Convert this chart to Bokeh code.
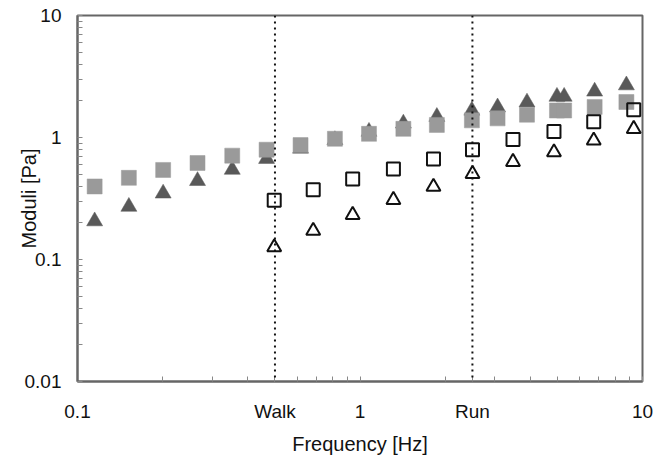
from bokeh.plotting import figure
from bokeh.models import FixedTicker, Span, ColumnDataSource
from bokeh.embed import file_html
from bokeh.resources import INLINE

# ---- data ----
freq_a = [0.115, 0.152, 0.201, 0.266, 0.353, 0.467, 0.616, 0.815, 1.076, 1.424,
          1.871, 2.489, 3.069, 3.90, 4.98, 5.28, 6.77, 8.77]
g_storage_a = [0.397, 0.467, 0.542, 0.618, 0.710, 0.794, 0.866, 0.976, 1.072, 1.177,
               1.268, 1.382, 1.435, 1.538, 1.664, 1.664, 1.780, 1.954]
g_loss_a = [0.206, 0.271, 0.348, 0.441, 0.545, 0.669, 0.812, 0.954, 1.117, 1.304,
            1.479, 1.664, 1.770, 1.940, 2.163, 2.163, 2.384, 2.682]

freq_b = [0.497, 0.683, 0.942, 1.313, 1.82, 2.502, 3.48, 4.86, 6.72, 9.31]
g_storage_b = [0.306, 0.373, 0.456, 0.553, 0.666, 0.794, 0.963, 1.119, 1.349, 1.689]
g_loss_b = [0.126, 0.172, 0.232, 0.308, 0.395, 0.503, 0.631, 0.757, 0.945, 1.177]

gait_freqs = [0.5, 2.5]
gait_labels = ["Walk", "Run"]

x_major = [0.1, 1, 10]
x_tick_labels = ["0.1", "1", "10"]
x_minor = [0.2, 0.3, 0.4, 0.5, 0.6, 0.7, 0.8, 0.9, 2, 3, 4, 5, 6, 7, 8, 9]
y_major = [0.01, 0.1, 1, 10]
y_tick_labels = ["0.01", "0.1", "1", "10"]
y_minor = [0.02, 0.03, 0.04, 0.05, 0.06, 0.07, 0.08, 0.09,
           0.2, 0.3, 0.4, 0.5, 0.6, 0.7, 0.8, 0.9, 2, 3, 4, 5, 6, 7, 8, 9]

FONT = "Liberation Sans"
AXIS_COL = "#666666"

p = figure(width=668, height=457, x_axis_type="log", y_axis_type="log",
           x_range=(0.1, 10), y_range=(0.01, 10),
           output_backend="svg", toolbar_location=None,
           min_border_left=77, min_border_right=26, min_border_top=15, min_border_bottom=73,
           background_fill_color="white", border_fill_color="white")
p.grid.visible = False
p.outline_line_color = AXIS_COL
p.outline_line_width = 2

# gait reference lines
for f in gait_freqs:
    p.add_layout(Span(location=f, dimension="height", line_color="#111111",
                      line_width=2, line_dash="2 4"))

src_a = ColumnDataSource(dict(x=freq_a, gs=g_storage_a, gl=g_loss_a))
src_b = ColumnDataSource(dict(x=freq_b, gs=g_storage_b, gl=g_loss_b))

p.scatter("x", "gl", source=src_a, marker="triangle", size=16,
          fill_color="#595959", line_color="#595959", line_width=0.5)
p.scatter("x", "gs", source=src_a, marker="square", size=15,
          fill_color="#9a9a9a", line_color="#9a9a9a", line_width=0.5)
p.scatter("x", "gs", source=src_b, marker="square", size=13,
          fill_color=None, line_color="#111111", line_width=2)
p.scatter("x", "gl", source=src_b, marker="triangle", size=14,
          fill_color=None, line_color="#111111", line_width=2)

# axes
x_ticks = x_major + gait_freqs
x_labels = x_tick_labels + gait_labels
for ax, major, minor, labels in ((p.xaxis[0], x_ticks, x_minor, x_labels),
                                 (p.yaxis[0], y_major, y_minor, y_tick_labels)):
    ax.ticker = FixedTicker(ticks=major, minor_ticks=minor)
    ax.major_label_overrides = {float(v): t for v, t in zip(major, labels)}
    ax.axis_line_color = AXIS_COL
    ax.axis_line_width = 2
    ax.major_tick_in = 5
    ax.major_tick_out = 0
    ax.minor_tick_in = 5
    ax.minor_tick_out = 0
    ax.major_tick_line_color = "#888888"
    ax.minor_tick_line_color = "#888888"
    ax.major_label_text_font = FONT
    ax.major_label_text_font_size = "19px"
    ax.major_label_text_color = "#111111"
    ax.axis_label_text_font = FONT
    ax.axis_label_text_font_size = "20px"
    ax.axis_label_text_font_style = "normal"
    ax.axis_label_text_color = "#111111"

p.xaxis.axis_label = "Frequency [Hz]"
p.xaxis.major_label_standoff = 19
p.xaxis.axis_label_standoff = 8
p.yaxis.axis_label = "Moduli [Pa]"
p.yaxis.major_label_standoff = 16
p.yaxis.axis_label_standoff = -18

open("out.html", "w").write(file_html(p, INLINE))
